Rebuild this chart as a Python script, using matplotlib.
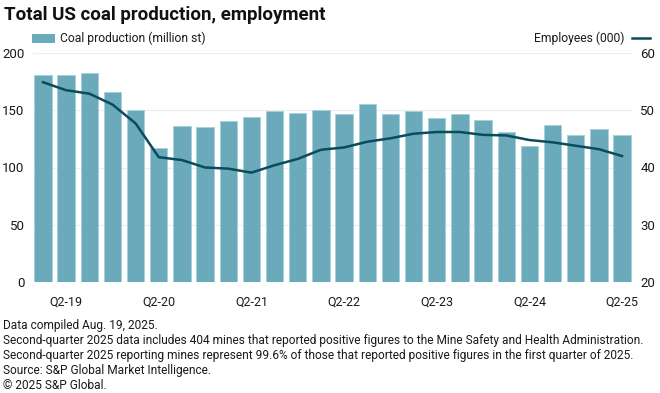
import matplotlib.pyplot as plt
import numpy as np

# quarters Q1-19 .. Q2-25
quarters = ['Q1-19', 'Q2-19', 'Q3-19', 'Q4-19',
            'Q1-20', 'Q2-20', 'Q3-20', 'Q4-20',
            'Q1-21', 'Q2-21', 'Q3-21', 'Q4-21',
            'Q1-22', 'Q2-22', 'Q3-22', 'Q4-22',
            'Q1-23', 'Q2-23', 'Q3-23', 'Q4-23',
            'Q1-24', 'Q2-24', 'Q3-24', 'Q4-24',
            'Q1-25', 'Q2-25']

# coal production (million st)
production = [181, 181, 182.5, 166, 150, 117, 136.6, 135, 141, 144, 149.5, 147.5, 150.4,
              146.3, 155.3, 146.9, 149.5, 143.4, 146.9, 141.6, 131, 119, 137, 128.8,
              133.4, 128.8]

# employees (000)
employees = [54.9, 53.5, 52.9, 51.0, 47.7, 41.8, 41.3, 40.0, 39.8, 39.1, 40.4, 41.5, 43.1,
             43.5, 44.5, 45.1, 45.9, 46.2, 46.2, 45.7, 45.6, 44.8, 44.4, 43.8, 43.2, 42.0]

tick_labels = ['Q2-19', 'Q2-20', 'Q2-21', 'Q2-22', 'Q2-23', 'Q2-24', 'Q2-25']

notes = ['Data compiled Aug. 19, 2025.',
         'Second-quarter 2025 data includes 404 mines that reported positive figures to the Mine Safety and Health Administration.',
         'Second-quarter 2025 reporting mines represent 99.6% of those that reported positive figures in the first quarter of 2025.',
         'Source: S&P Global Market Intelligence.',
         '\u00a9 2025 S&P Global.']

plt.rcParams['font.family'] = ['Roboto', 'DejaVu Sans']

bar_color = '#6aaabb'
line_color = '#0b4c5c'
text_color = '#1a1a1a'

W, H = 660, 393
fig = plt.figure(figsize=(W / 100, H / 100), dpi=100)
ax = fig.add_axes([33 / W, 1 - 282 / H, (632 - 33) / W, (282 - 53) / H])
ax2 = ax.twinx()

x = np.arange(len(quarters))
ax.bar(x, production, width=0.75, color=bar_color, edgecolor='#a6d0da', linewidth=0.7, zorder=2)
ax2.plot(x, employees, color=line_color, linewidth=1.8, zorder=3)

ax.set_xlim(-0.43, len(quarters) - 1 + 0.43)
ax.set_ylim(0, 200)
ax2.set_ylim(20, 60)
ax.set_yticks([0, 50, 100, 150, 200])
ax2.set_yticks([20, 30, 40, 50, 60])
ax.grid(axis='y', color='#ececec', linewidth=0.8, zorder=0)
ax.set_axisbelow(True)

tick_pos = [quarters.index(t) for t in tick_labels]
ax.set_xticks(tick_pos)
ax.set_xticklabels(tick_labels)

for a in (ax, ax2):
    for s in a.spines.values():
        s.set_visible(False)
    a.tick_params(length=0, labelsize=9.5, colors=text_color)
ax.tick_params(axis='x', pad=10, labelsize=9)
ax.tick_params(axis='y', pad=6)
ax2.tick_params(axis='y', pad=6)

fig.text(4 / W, 1 - 15 / H, 'Total US coal production, employment', fontsize=13.5,
         fontweight='bold', va='center', ha='left', color='#111111')

# legend entries
fig.patches.append(plt.Rectangle((32 / W, 1 - 43 / H), 23 / W, 9 / H, transform=fig.transFigure,
                                 facecolor=bar_color, edgecolor='none'))
fig.text(60 / W, 1 - 38 / H, 'Coal production (million st)', fontsize=8.7, va='center', ha='left',
         color=text_color)
fig.add_artist(plt.Line2D([632 / W, 650 / W], [1 - 38 / H, 1 - 38 / H], color=line_color,
                          linewidth=1.8, transform=fig.transFigure))
fig.text(624 / W, 1 - 38 / H, 'Employees (000)', fontsize=8.7, va='center', ha='right',
         color=text_color)

for i, n in enumerate(notes):
    fig.text(3 / W, 1 - (325 + 15.2 * i) / H, n, fontsize=8.6, va='center', ha='left',
             color=text_color)

fig.savefig('out.png', dpi=100)
